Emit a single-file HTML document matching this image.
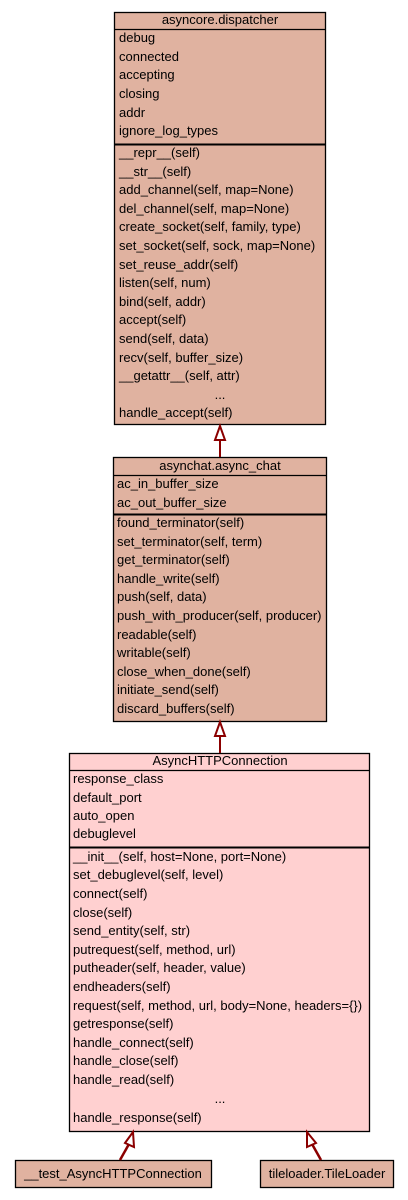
<!DOCTYPE html>
<html><head><meta charset="utf-8"><style>
html,body{margin:0;padding:0;background:#fff;width:408px;height:1200px;overflow:hidden}
svg text{font-family:"Liberation Sans",sans-serif;font-size:13px;fill:#000}
</style></head><body>
<svg width="408" height="1200" viewBox="0 0 408 1200" xmlns="http://www.w3.org/2000/svg">
<g stroke="#000" stroke-width="1.3">
<rect x="114.5" y="12.5" width="211" height="412" fill="#E0B2A0"/>
<line x1="114" y1="29.5" x2="326" y2="29.5"/>
<line x1="114" y1="144.5" x2="326" y2="144.5" stroke-width="2"/>
<rect x="113.5" y="457.5" width="213" height="264" fill="#E0B2A0"/>
<line x1="113" y1="475.5" x2="327" y2="475.5"/>
<line x1="113" y1="514.5" x2="327" y2="514.5" stroke-width="2"/>
<rect x="69.5" y="753.5" width="300" height="378" fill="#FFD0D0"/>
<line x1="69" y1="770.5" x2="370" y2="770.5"/>
<line x1="69" y1="847.5" x2="370" y2="847.5" stroke-width="2"/>
<rect x="15.5" y="1160.5" width="196" height="27" fill="#E0B2A0"/>
<rect x="260.5" y="1160.5" width="133" height="27" fill="#E0B2A0"/>
</g>
<g stroke="#8B0000" stroke-width="2" fill="#fff">
<line x1="220" y1="440" x2="220" y2="457"/>
<polygon points="220,426 215,440 225,440"/>
<line x1="220" y1="736" x2="220" y2="753"/>
<polygon points="220,722 215,736 225,736"/>
<line x1="120" y1="1160" x2="129" y2="1144" stroke-width="2.5"/>
<polygon points="133,1132 125,1143 134,1147"/>
<line x1="321" y1="1160" x2="312" y2="1144" stroke-width="2.5"/>
<polygon points="307,1132 307,1147 316,1143"/>
</g>
<text x="220" y="24" text-anchor="middle">asyncore.dispatcher</text>
<g>
<text x="119" y="42">debug</text>
<text x="119" y="61">connected</text>
<text x="119" y="79">accepting</text>
<text x="119" y="98">closing</text>
<text x="119" y="117">addr</text>
<text x="119" y="135">ignore_log_types</text>
<text x="119" y="157">__repr__(self)</text>
<text x="119" y="176">__str__(self)</text>
<text x="119" y="194">add_channel(self, map=None)</text>
<text x="119" y="213">del_channel(self, map=None)</text>
<text x="119" y="231">create_socket(self, family, type)</text>
<text x="119" y="250">set_socket(self, sock, map=None)</text>
<text x="119" y="269">set_reuse_addr(self)</text>
<text x="119" y="287">listen(self, num)</text>
<text x="119" y="306">bind(self, addr)</text>
<text x="119" y="324">accept(self)</text>
<text x="119" y="343">send(self, data)</text>
<text x="119" y="362">recv(self, buffer_size)</text>
<text x="119" y="380">__getattr__(self, attr)</text>
<text x="220" y="399" text-anchor="middle">...</text>
<text x="119" y="417">handle_accept(self)</text>
</g>
<text x="220" y="470" text-anchor="middle">asynchat.async_chat</text>
<g>
<text x="117" y="488">ac_in_buffer_size</text>
<text x="117" y="507">ac_out_buffer_size</text>
<text x="117" y="527">found_terminator(self)</text>
<text x="117" y="546">set_terminator(self, term)</text>
<text x="117" y="564">get_terminator(self)</text>
<text x="117" y="583">handle_write(self)</text>
<text x="117" y="601">push(self, data)</text>
<text x="117" y="620">push_with_producer(self, producer)</text>
<text x="117" y="639">readable(self)</text>
<text x="117" y="657">writable(self)</text>
<text x="117" y="676">close_when_done(self)</text>
<text x="117" y="694">initiate_send(self)</text>
<text x="117" y="713">discard_buffers(self)</text>
</g>
<text x="220" y="765" text-anchor="middle">AsyncHTTPConnection</text>
<g>
<text x="73" y="783">response_class</text>
<text x="73" y="802">default_port</text>
<text x="73" y="820">auto_open</text>
<text x="73" y="838">debuglevel</text>
<text x="73" y="861">__init__(self, host=None, port=None)</text>
<text x="73" y="879">set_debuglevel(self, level)</text>
<text x="73" y="898">connect(self)</text>
<text x="73" y="917">close(self)</text>
<text x="73" y="935">send_entity(self, str)</text>
<text x="73" y="954">putrequest(self, method, url)</text>
<text x="73" y="972">putheader(self, header, value)</text>
<text x="73" y="991">endheaders(self)</text>
<text x="73" y="1010">request(self, method, url, body=None, headers={})</text>
<text x="73" y="1028">getresponse(self)</text>
<text x="73" y="1047">handle_connect(self)</text>
<text x="73" y="1065">handle_close(self)</text>
<text x="73" y="1084">handle_read(self)</text>
<text x="220" y="1103" text-anchor="middle">...</text>
<text x="73" y="1122">handle_response(self)</text>
</g>
<text x="113" y="1178" text-anchor="middle">__test_AsyncHTTPConnection</text>
<text x="327" y="1178" text-anchor="middle">tileloader.TileLoader</text>
</svg>
</body></html>
